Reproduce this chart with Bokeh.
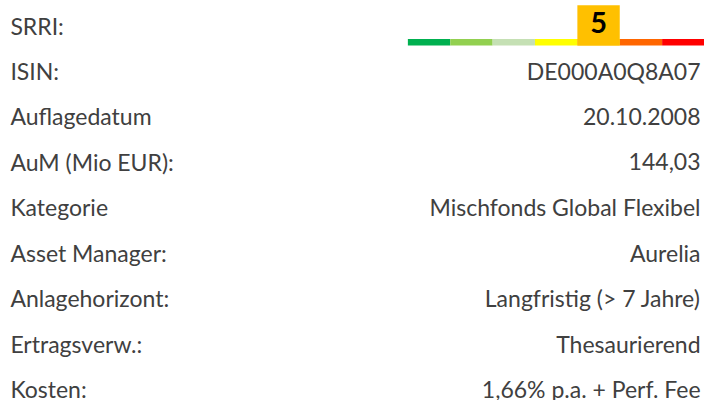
from bokeh.plotting import figure
from bokeh.models import Range1d, ColumnDataSource
from bokeh.core.properties import value
from bokeh.embed import file_html
from bokeh.resources import INLINE

# ---- data ----
labels = ["SRRI:", "ISIN:", "Auflagedatum", "AuM (Mio EUR):", "Kategorie",
          "Asset Manager:", "Anlagehorizont:", "Ertragsverw.:", "Kosten:"]
values = ["", "DE000A0Q8A07", "20.10.2008", "144,03", "Mischfonds Global Flexibel",
          "Aurelia", "Langfristig (> 7 Jahre)", "Thesaurierend", "1,66% p.a. + Perf. Fee"]
srri_levels = [1, 2, 3, 4, 5, 6, 7]
srri_colors = ["#00B050", "#92D050", "#C5E0B4", "#FFFF00", "#FFC000", "#FF6600", "#FF0000"]
srri_value = 5

# ---- layout (data space = reference pixels) ----
W, H = 704, 400
FONT = "Lato"
TEXT_COLOR = "#404040"
FS = "23px"
ROW0, ROWSTEP = 26, 47.3
rows_y = [ROW0 + ROWSTEP * i for i in range(len(labels))]

p = figure(width=W, height=H, output_backend="svg", toolbar_location=None,
           x_range=Range1d(0, 712), y_range=Range1d(416, 0),
           min_border=0, outline_line_color=None)
p.axis.visible = False
p.grid.visible = False
p.background_fill_color = "white"
p.border_fill_color = "white"

# SRRI scale: level k spans k-0.5..k+0.5 (bar from x=412 to x=712)
seg = 300 / 7
p.extra_x_ranges = {"srri": Range1d(0.5 - 412 / seg, 0.5 + 712 / seg - 412 / seg)}

src = ColumnDataSource(dict(y=rows_y, label=labels, val=values))
p.text(x=10, y="y", text="label", source=src, text_font=value(FONT),
       text_font_size=FS, text_color=TEXT_COLOR, text_baseline="middle",
       text_align="left")
p.text(x=708, y="y", text="val", source=src, text_font=value(FONT),
       text_font_size=FS, text_color=TEXT_COLOR, text_baseline="middle",
       text_align="right")

# clip of the "Auflagedatum" label box
p.quad(left=[153], right=[230], top=[rows_y[2] - 16], bottom=[rows_y[2] + 14],
       fill_color="white", line_color=None)

# SRRI bar
bar_top = 40
bar_bot = 46.7
bsrc = ColumnDataSource(dict(left=[l - 0.5 for l in srri_levels],
                             right=[l + 0.5 for l in srri_levels],
                             color=srri_colors))
p.quad(left="left", right="right", top=bar_top, bottom=bar_bot, fill_color="color",
       line_color=None, source=bsrc, x_range_name="srri")
p.quad(left=[srri_value - 0.5], right=[srri_value + 0.5], top=[5], bottom=[bar_bot],
       fill_color=srri_colors[srri_value - 1], line_color=None, x_range_name="srri")
p.text(x=[srri_value], y=[23], text=[str(srri_value)], text_font=value(FONT),
       text_font_style="bold", text_font_size="29px", text_color="black",
       text_align="center", text_baseline="middle", x_range_name="srri")

open("out.html", "w").write(file_html(p, INLINE))
